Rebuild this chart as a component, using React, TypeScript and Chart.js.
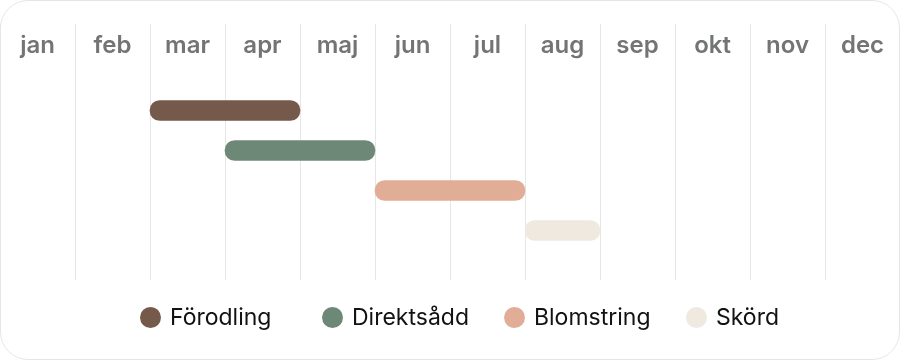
import { useEffect, useRef } from 'react';
import { Chart, registerables } from 'chart.js';

Chart.register(...registerables);

const months = ['jan', 'feb', 'mar', 'apr', 'maj', 'jun', 'jul', 'aug', 'sep', 'okt', 'nov', 'dec'];
const phases = ['Förodling', 'Direktsådd', 'Blomstring', 'Skörd'];
const phaseStart = [2, 3, 5, 7];
const phaseEnd = [4, 5, 7, 8];
const phaseRow = [0, 1, 2, 3];
const phaseColors = ['#75594b', '#6e8877', '#e2ad97', '#efe9e0'];

export default function App() {
  const ref = useRef<HTMLCanvasElement>(null);

  useEffect(() => {
    const chart = new Chart(ref.current!, {
      type: 'bar',
      data: {
        datasets: phases.map((label, i) => ({
          label,
          data: [{ x: [phaseStart[i], phaseEnd[i]], y: phaseRow[i] }],
          backgroundColor: phaseColors[i],
          borderWidth: 0,
          borderRadius: 10,
          borderSkipped: false,
          barThickness: 20,
          maxBarThickness: 20,
          grouped: false,
          xAxisID: 'x',
          yAxisID: 'y',
        })) as any,
      },
      options: {
        indexAxis: 'y',
        responsive: false,
        animation: false,
        layout: { padding: { top: 10, bottom: 80, left: 0, right: 0 } },
        scales: {
          x: { type: 'linear', min: 0, max: 12, display: false, offset: false },
          months: {
            type: 'category',
            labels: months,
            position: 'top',
            offset: true,
            grid: { offset: true, color: '#e6e6e6', lineWidth: 1, drawTicks: false },
            border: { display: false },
            ticks: {
              mirror: true,
              padding: 7,
              color: '#727573',
              font: { family: 'Inter', size: 24, weight: 600 },
            },
          } as any,
          y: {
            type: 'linear',
            min: -2.1625,
            max: 4.2375,
            reverse: true,
            display: false,
            offset: false,
            grid: { offset: false },
          } as any,
        },
        plugins: {
          legend: { display: false },
          tooltip: { enabled: false },
        },
      },
    });
    return () => chart.destroy();
  }, []);

  return (
    <div style={{ position: 'absolute', left: 0, top: 0, width: 900, height: 360, background: '#ffffff' }}>
      <canvas ref={ref} width={900} height={360} style={{ position: 'absolute', left: 0, top: 0 }} />
      <div
        style={{
          position: 'absolute',
          left: 140,
          top: 305,
          display: 'flex',
          alignItems: 'center',
          fontFamily: 'Inter',
          fontSize: 23,
          lineHeight: '24px',
          color: '#121212',
        }}
      >
        {phases.map((p, i) => (
          <div
            key={p}
            style={{ display: 'flex', alignItems: 'center', width: i < phases.length - 1 ? 182 : 'auto' }}
          >
            <span
              style={{
                display: 'inline-block',
                flexShrink: 0,
                width: 21,
                height: 21,
                borderRadius: '50%',
                background: phaseColors[i],
                marginRight: 9,
              }}
            />
            <span>{p}</span>
          </div>
        ))}
      </div>
      <div
        style={{
          position: 'absolute',
          left: 0,
          top: 0,
          width: 900,
          height: 360,
          boxSizing: 'border-box',
          border: '1px solid #e6e6e6',
          borderRadius: 28,
          pointerEvents: 'none',
        }}
      />
    </div>
  );
}
